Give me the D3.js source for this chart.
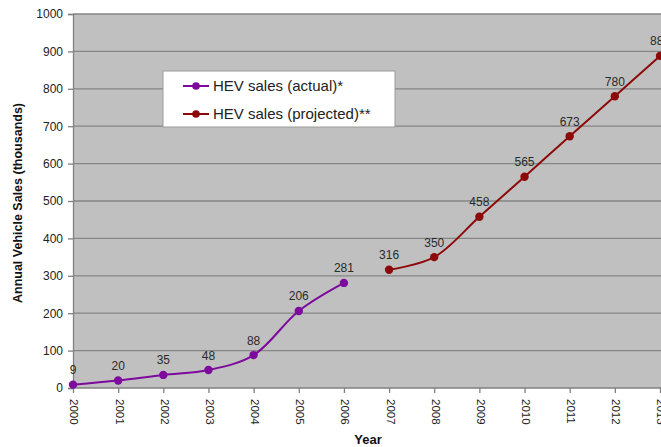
<!DOCTYPE html>
<html>
<head>
<meta charset="utf-8">
<script src="https://cdn.jsdelivr.net/npm/d3@7"></script>
<style>
  html, body { margin: 0; padding: 0; background: #fff; }
  svg { display: block; font-family: "Liberation Sans", Arial, sans-serif; }
</style>
</head>
<body>
<svg id="chart" width="661" height="447"></svg>
<script>
// Hybrid electric vehicle sales, in thousands of units
const years = [2000, 2001, 2002, 2003, 2004, 2005, 2006, 2007, 2008, 2009, 2010, 2011, 2012, 2013];
const actualYears = [2000, 2001, 2002, 2003, 2004, 2005, 2006];
const actualSales = [9, 20, 35, 48, 88, 206, 281];
const projectedYears = [2007, 2008, 2009, 2010, 2011, 2012, 2013];
const projectedSales = [316, 350, 458, 565, 673, 780, 888];
const yTicks = [0, 100, 200, 300, 400, 500, 600, 700, 800, 900, 1000];
const seriesNames = ["HEV sales (actual)*", "HEV sales (projected)**"];

const svg = d3.select("#chart");
const plot = { left: 73, top: 14, right: 700, bottom: 388 };

const x = d3.scaleLinear().domain([2000, 2013]).range([73, 660]);
const y = d3.scaleLinear().domain([0, 1000]).range([plot.bottom, plot.top]);

// plot background
svg.append("rect")
  .attr("x", plot.left).attr("y", plot.top)
  .attr("width", plot.right - plot.left).attr("height", plot.bottom - plot.top)
  .attr("fill", "#c0c0c0");

// horizontal gridlines
svg.append("g")
  .selectAll("line").data(yTicks.filter(d => d > 0)).join("line")
  .attr("x1", plot.left).attr("x2", plot.right)
  .attr("y1", d => y(d)).attr("y2", d => y(d))
  .attr("stroke", "#858585").attr("stroke-width", 1.3);

// y axis
const yAxis = d3.axisLeft(y).tickValues(yTicks).tickSize(5).tickPadding(5).tickFormat(d3.format("d"));
const gy = svg.append("g").attr("transform", `translate(${plot.left},0)`).call(yAxis);
gy.select(".domain").attr("stroke", "#808080").attr("stroke-width", 1.3);
gy.selectAll(".tick line").attr("stroke", "#808080").attr("stroke-width", 1.3);
gy.selectAll(".tick text").attr("fill", "#222").style("font-size", "12px")
  .style("font-family", "'Liberation Sans', Arial, sans-serif");

// x axis with vertical year labels
const xAxis = d3.axisBottom(x).tickValues(years).tickSize(5).tickFormat(d3.format("d"));
const gx = svg.append("g").attr("transform", `translate(0,${plot.bottom})`).call(xAxis);
gx.select(".domain").attr("d", `M${plot.left},0H${plot.right}`).attr("stroke", "#808080").attr("stroke-width", 1.3);
gx.selectAll(".tick line").attr("stroke", "#808080").attr("stroke-width", 1.3);
gx.selectAll(".tick text")
  .attr("fill", "#222")
  .style("font-size", "11.5px")
  .style("font-family", "'Liberation Sans', Arial, sans-serif")
  .attr("text-anchor", "start")
  .attr("dy", null)
  .attr("y", 0)
  .attr("dominant-baseline", "middle")
  .attr("transform", "translate(0,11) rotate(90)");

// axis titles
svg.append("text")
  .attr("transform", `translate(22,203) rotate(-90)`)
  .attr("text-anchor", "middle")
  .attr("font-size", "12.5px").attr("font-weight", "bold").attr("fill", "#111")
  .text("Annual Vehicle Sales (thousands)");

svg.append("text")
  .attr("x", 368).attr("y", 444)
  .attr("text-anchor", "middle")
  .attr("font-size", "13px").attr("font-weight", "bold").attr("fill", "#111")
  .text("Year");

// series
const series = [
  { name: seriesNames[0], years: actualYears, values: actualSales, color: "#7d0a9c" },
  { name: seriesNames[1], years: projectedYears, values: projectedSales, color: "#8c0a0a" }
];

const line = d3.line()
  .x(d => x(d[0]))
  .y(d => y(d[1]))
  .curve(d3.curveCatmullRom.alpha(0.5));

series.forEach(s => {
  const pts = s.years.map((yr, i) => [yr, s.values[i]]);
  const g = svg.append("g");
  g.append("path").datum(pts)
    .attr("d", line)
    .attr("fill", "none")
    .attr("stroke", s.color)
    .attr("stroke-width", 2);
  g.selectAll("circle").data(pts).join("circle")
    .attr("cx", d => x(d[0])).attr("cy", d => y(d[1]))
    .attr("r", 4.2).attr("fill", s.color);
  g.selectAll("text").data(pts).join("text")
    .attr("x", d => x(d[0])).attr("y", d => y(d[1]) - 10.5)
    .attr("text-anchor", "middle")
    .attr("font-size", "12px").attr("fill", "#2a2a2a")
    .text(d => d[1]);
});

// legend
const legend = svg.append("g").attr("transform", "translate(163,71)");
legend.append("rect")
  .attr("width", 232).attr("height", 56)
  .attr("fill", "#fff").attr("stroke", "#9a9a9a").attr("stroke-width", 1);
series.forEach((s, i) => {
  const ly = 15 + i * 28;
  legend.append("line")
    .attr("x1", 20).attr("x2", 46).attr("y1", ly).attr("y2", ly)
    .attr("stroke", s.color).attr("stroke-width", 2);
  legend.append("circle").attr("cx", 33).attr("cy", ly).attr("r", 3.8).attr("fill", s.color);
  legend.append("text")
    .attr("x", 50).attr("y", ly).attr("dy", "0.35em")
    .attr("font-size", "15px").attr("fill", "#222")
    .text(s.name);
});
</script>
</body>
</html>
